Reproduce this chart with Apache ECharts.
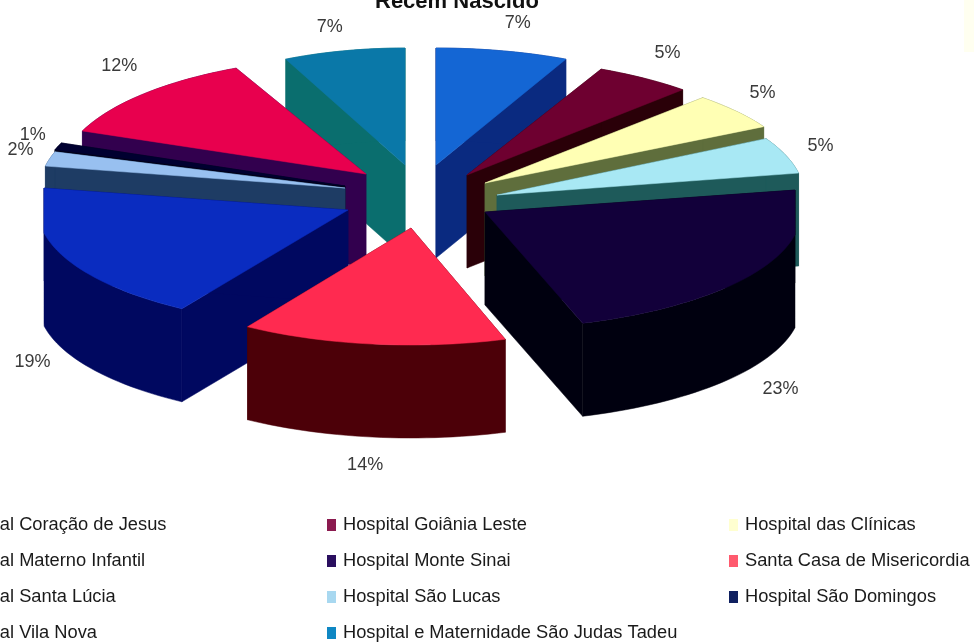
<!DOCTYPE html>
<html><head><meta charset="utf-8">
<style>html,body{margin:0;padding:0;background:#fff}#c{width:974px;height:644px}</style>
<script src="https://cdn.jsdelivr.net/npm/echarts@6/dist/echarts.min.js"></script>
</head><body><div id="c"></div>
<script>
// Data: slices clockwise from 12 o'clock
const hospitals = ['Hospital Coração de Jesus','Hospital Goiânia Leste','Hospital das Clínicas','Hospital São Lucas','Hospital Monte Sinai','Santa Casa de Misericordia','Hospital Materno Infantil','Hospital Santa Lúcia','Hospital São Domingos','Hospital Vila Nova','Hospital e Maternidade São Judas Tadeu'];
const percents = [7,5,5,5,23,14,19,2,1,12,7];

// Styles
const topColors  = ['#1466D4','#6E0030','#FFFFB4','#A8E8F4','#12003A','#FF2A50','#0A2CC0','#98C0F0','#000030','#E8004E','#0A78A8'];
const sideColors = ['#0A2A80','#2A0008','#5F6E3C','#1E5A5A','#00000F','#4C0008','#000860','#1E3C64','#000018','#32004E','#0A6E6E'];
const legendColors = ['#1466D4','#8B1A4F','#FFFFD0','#A8D8F0','#2A0F5F','#FF5A6E','#0A2CC0','#98C0F0','#0F2060','#E8004E','#0F87C3'];

// Layout of the exploded pseudo-3D pie
const apexX = [436,467,485,497,485,411,348,345,345,366,405];
const apexY = [165,175,183,195,212,228,210,188,186,174,165];
const radiusX = [305,315,318,307,316,305,310,305,305,305,280];
const clipLeft = 44, clipRight = 795;
const radiusY = 117, depth = 93, labelK = 1.2;
const labelNudgeX = [2,-12,-24,-23,-31,0,26,30,32,20,-2];
const labelNudgeY = [-5,-6,-4,-1,13,5,3,-3,-3,-12,-1];
const paintOrder = [10,0,9,8,1,2,7,3,6,4,5];
const clampedSlices = [4,6];

const total = percents.reduce((a,b)=>a+b,0);
const startAngles = percents.map((_,i)=>percents.slice(0,i).reduce((a,b)=>a+b,0)/total*Math.PI*2);

function rimPoint(i,a){
  let x = apexX[i]+radiusX[i]*Math.sin(a);
  if (clampedSlices.includes(i)) x = Math.min(clipRight, Math.max(clipLeft, x));
  return [x, apexY[i]-radiusY*Math.cos(a)];
}

function renderSlice(i){
  return function(params,api){
    const v = api.value(0);
    const a0 = startAngles[i], a1 = a0 + v/total*Math.PI*2;
    const n = Math.max(6,Math.ceil((a1-a0)/0.03));
    const rim=[]; for(let k=0;k<=n;k++) rim.push(rimPoint(i,a0+(a1-a0)*k/n));
    const apex=[apexX[i],apexY[i]];
    const d=p=>[p[0],p[1]+depth];
    const side=sideColors[i];
    const poly=(pts,fill)=>({type:'polygon',shape:{points:pts},style:{fill,stroke:fill,lineWidth:0.5}});
    const children=[
      poly([apex,rim[0],d(rim[0]),d(apex)],side),
      poly([apex,rim[n],d(rim[n]),d(apex)],side),
      poly(rim.concat(rim.map(d).reverse()),side),
      poly([apex].concat(rim),topColors[i])
    ];
    const mid=(a0+a1)/2;
    const lx=apexX[i]+radiusX[i]*labelK*Math.sin(mid)+labelNudgeX[i];
    const ly=apexY[i]-radiusY*labelK*Math.cos(mid)+(Math.cos(mid)<0?depth:0)+labelNudgeY[i];
    children.push({type:'text',z2:100,style:{x:lx,y:ly,text:Math.round(v/total*100)+'%',fill:'#3a3a3a',font:'18px "Liberation Sans", Arial, sans-serif',align:'center',verticalAlign:'middle'}});
    return {type:'group',children};
  };
}

const series = paintOrder.map((i,order)=>({
  type:'custom',name:hospitals[i],coordinateSystem:'none',z:2+order,silent:true,animation:false,
  itemStyle:{color:legendColors[i]},
  data:[[percents[i]]],renderItem:renderSlice(i)
}));

const legendCol=(idx,left)=>({
  orient:'vertical',left,top:516,height:300,width:400,padding:0,icon:'rect',itemWidth:9,itemHeight:12,itemGap:18,itemStyle:{borderWidth:0},
  selectedMode:false,
  textStyle:{fontFamily:'"Liberation Sans", Arial, sans-serif',fontSize:18.3,color:'#1a1a1a',padding:[0,0,0,2],height:18,lineHeight:18},
  data:idx.map(i=>({name:hospitals[i],itemStyle:{color:legendColors[i]}}))
});

const chart=echarts.init(document.getElementById('c'),null,{renderer:'canvas'});
chart.setOption({
  backgroundColor:'#fff',animation:false,
  title:{text:'Recém Nascido',left:375,top:-9,padding:0,textStyle:{fontFamily:'"Liberation Sans", Arial, sans-serif',fontSize:22,fontWeight:'bold',color:'#111'}},
  legend:[legendCol([0,6,7,9],-68),legendCol([1,4,3,10],327),legendCol([2,5,8],729)],
  graphic:[{type:'rect',silent:true,shape:{x:964,y:0,width:10,height:52},style:{fill:'#FFFFF0'}}],
  series
});
</script></body></html>
